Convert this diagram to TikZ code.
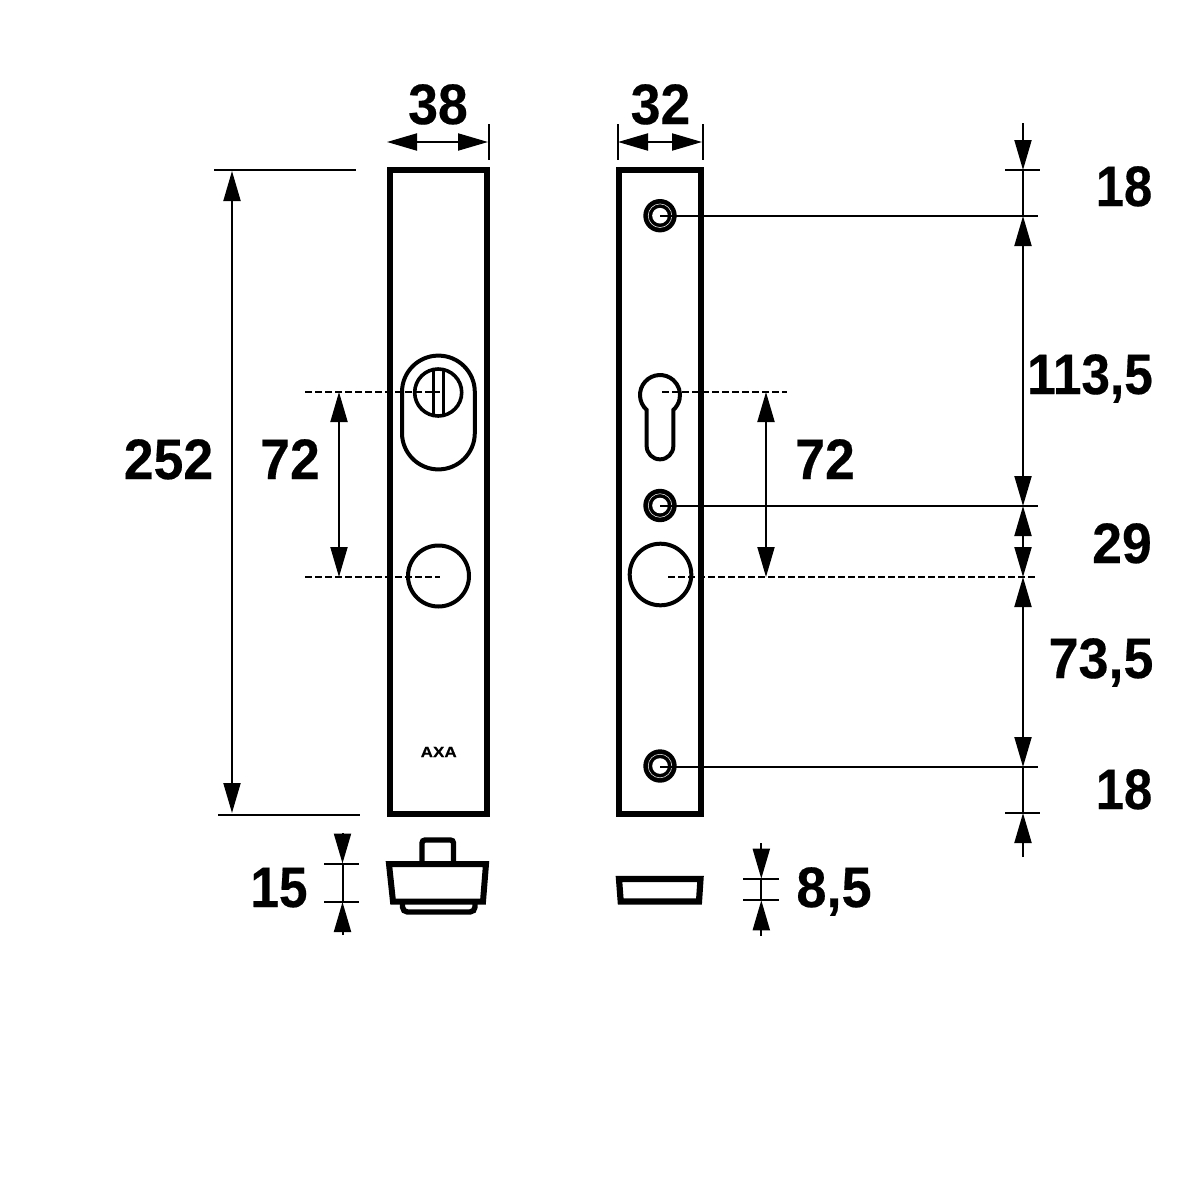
\documentclass[tikz,border=0pt]{standalone}
\usepackage{fontspec}
\setmainfont{Liberation Sans}[BoldFeatures={FakeBold=0.35}]
\usetikzlibrary{arrows.meta}
\tikzset{
  heavy/.style={line width=6pt,line join=miter},
  part/.style={line width=4pt},
  thin dim/.style={line width=2pt},
  hidden line/.style={line width=1.8pt,dash pattern=on 6.5pt off 3.5pt},
  tip/.style={thin dim,-{Triangle[length=30pt,width=17pt]}},
  twotips/.style={thin dim,{Triangle[length=30pt,width=17pt]}-{Triangle[length=30pt,width=17pt]}},
  dimtext/.style={font=\fontsize{57}{60}\selectfont\bfseries,inner sep=0pt,text height=41pt,text depth=0pt},
  logo/.style={font=\fontsize{15}{16}\selectfont\bfseries,inner sep=0pt,xscale=1.14}
}
\newcommand{\screw}[2]{%
  \fill[black] (#1,#2) circle[radius=16.7];
  \draw[white,line width=0.5pt] (#1,#2) circle[radius=11.8];
  \fill[white] (#1,#2) circle[radius=7.8];
}
\begin{document}
\begin{tikzpicture}[x=1pt,y=-1pt]
\useasboundingbox[fill=white] (0,0) rectangle (1181,1181);
% plates
\draw[heavy] (390,170) rectangle (487.3,813.5);
\draw[heavy] (619.3,170) rectangle (700.8,813.5);
% left cylinder escutcheon
\draw[part] (402,392) arc[start angle=180,end angle=360,radius=36.4] -- (474.8,433) arc[start angle=0,end angle=180,radius=36.4] -- cycle;
\draw[part,line width=3.6pt] (438.2,392.5) circle[radius=23.5];
\draw[part,line width=3.6pt] (433.3,369) -- (433.3,416);
\draw[part,line width=3.6pt] (443.3,369) -- (443.3,416);
% knobs
\draw[part] (438.5,576) circle[radius=30.5];
\draw[part] (660.5,574.5) circle[radius=30.8];
% keyhole
\draw[part] (646.65,409.9) arc[start angle=131.9,end angle=408.1,radius=20] -- (673.35,446) arc[start angle=0,end angle=180,radius=13.35] -- cycle;
% screws
\screw{660}{215.7}
\screw{660}{505.5}
\screw{660}{766}
% logo
\node[logo] (axa) at (438.7,752) {AXA};
% left profile
\draw[heavy,line join=miter] (389,864) -- (486,864) -- (483,901.5) -- (393,901.5) -- cycle;
\draw[heavy,line width=5.4pt,rounded corners=3pt] (422,864) -- (422,840) -- (453.5,840) -- (453.5,864);
\draw[heavy,line width=5.4pt,rounded corners=5pt] (402.5,902) -- (402.5,912) -- (475,912) -- (475,902);
% right profile
\draw[heavy,line width=6.2pt] (619,879) -- (700.5,879) -- (699,901.5) -- (620.7,901.5) -- cycle;
% hidden lines
\coordinate (hl1) at (305,392); \coordinate (hl2) at (440,392);
\coordinate (hl3) at (305,577); \coordinate (hl4) at (440,577);
\coordinate (hr1) at (662,392); \coordinate (hr2) at (787,392);
\coordinate (hr3) at (668,577); \coordinate (hr4) at (1038,577);
\draw[hidden line] (hl1) -- (hl2);
\draw[hidden line] (hl3) -- (hl4);
\draw[hidden line] (hr1) -- (hr2);
\draw[hidden line] (hr3) -- (hr4);
% extension lines
\coordinate (e38a) at (488.5,124); \coordinate (e38b) at (488.5,160);
\coordinate (e32a) at (617.5,124); \coordinate (e32b) at (617.5,160);
\coordinate (e32c) at (702.5,124); \coordinate (e32d) at (702.5,160);
\draw[thin dim] (e38a) -- (e38b);
\draw[thin dim] (e32a) -- (e32b);
\draw[thin dim] (e32c) -- (e32d);
\coordinate (t1a) at (214,170); \coordinate (t1b) at (356,170);
\coordinate (t2a) at (218,814.5); \coordinate (t2b) at (360,814.5);
\draw[thin dim] (t1a) -- (t1b);
\draw[thin dim] (t2a) -- (t2b);
\coordinate (r1a) at (1005,170); \coordinate (r1b) at (1040,170);
\coordinate (r2a) at (660,216); \coordinate (r2b) at (1038,216);
\coordinate (r3a) at (660,506); \coordinate (r3b) at (1038,506);
\coordinate (r4a) at (660,767); \coordinate (r4b) at (1038,767);
\coordinate (r5a) at (1005,813); \coordinate (r5b) at (1040,813);
\draw[thin dim] (r1a) -- (r1b);
\draw[thin dim] (r2a) -- (r2b);
\draw[thin dim] (r3a) -- (r3b);
\draw[thin dim] (r4a) -- (r4b);
\draw[thin dim] (r5a) -- (r5b);
\coordinate (p1a) at (324,863.5); \coordinate (p1b) at (359,863.5);
\coordinate (p2a) at (324,902); \coordinate (p2b) at (359,902);
\coordinate (q1a) at (743,878.7); \coordinate (q1b) at (779,878.7);
\coordinate (q2a) at (743,900.3); \coordinate (q2b) at (779,900.3);
\draw[thin dim] (p1a) -- (p1b);
\draw[thin dim] (p2a) -- (p2b);
\draw[thin dim] (q1a) -- (q1b);
\draw[thin dim] (q2a) -- (q2b);
% dimension arrows
\coordinate (a38a) at (387,142); \coordinate (a38b) at (488,142);
\coordinate (a32a) at (618,142); \coordinate (a32b) at (702,142);
\draw[twotips] (a38a) -- (a38b);
\draw[twotips] (a32a) -- (a32b);
\coordinate (a252a) at (232,171); \coordinate (a252b) at (232,813);
\draw[twotips] (a252a) -- (a252b);
\coordinate (a72a) at (339,392); \coordinate (a72b) at (339,577);
\coordinate (a72c) at (766,392); \coordinate (a72d) at (766,577);
\draw[twotips] (a72a) -- (a72b);
\draw[twotips] (a72c) -- (a72d);
\coordinate (c0) at (1023,123); \coordinate (c1) at (1023,170); \coordinate (c2) at (1023,216);
\coordinate (c3) at (1023,506); \coordinate (c4) at (1023,577); \coordinate (c5) at (1023,767);
\coordinate (c6) at (1023,813); \coordinate (c7) at (1023,857);
\draw[tip] (c0) -- (c1);
\draw[thin dim] (c1) -- (c2);
\draw[twotips] (c2) -- (c3);
\draw[twotips] (c3) -- (c4);
\draw[twotips] (c4) -- (c5);
\draw[thin dim] (c5) -- (c6);
\draw[tip] (c7) -- (c6);
\coordinate (d0) at (342.5,833); \coordinate (d1) at (342.5,863.5);
\coordinate (d2) at (342.5,902); \coordinate (d3) at (342.5,935);
\draw[tip] (d0) -- (d1);
\draw[thin dim] (d1) -- (d2);
\draw[tip] (d3) -- (d2);
\coordinate (f0) at (761.3,843); \coordinate (f1) at (761.3,878.7);
\coordinate (f2) at (761.3,900.3); \coordinate (f3) at (761.3,936);
\draw[tip] (f0) -- (f1);
\draw[thin dim] (f1) -- (f2);
\draw[tip] (f3) -- (f2);
% labels
\node[dimtext,xscale=.94] (l38) at (438,103.5) {38};
\node[dimtext,xscale=.94] (l32) at (660.5,103.5) {32};
\node[dimtext,xscale=.89] (l18a) at (1124,185.5) {18};
\node[dimtext,xscale=.9] (l113) at (1090,373.5) {113,5};
\node[dimtext,xscale=.94] (l29) at (1122,542.5) {29};
\node[dimtext,xscale=.945] (l73) at (1101,657.5) {73,5};
\node[dimtext,xscale=.89] (l18b) at (1124,788.5) {18};
\node[dimtext,xscale=.94] (l252) at (168.5,458.5) {252};
\node[dimtext,xscale=.94] (l72a) at (290,458.5) {72};
\node[dimtext,xscale=.94] (l72b) at (825,458.5) {72};
\node[dimtext,xscale=.9] (l15) at (279,886.5) {15};
\node[dimtext,xscale=.95] (l85) at (834,886.5) {8,5};
\end{tikzpicture}
\end{document}
